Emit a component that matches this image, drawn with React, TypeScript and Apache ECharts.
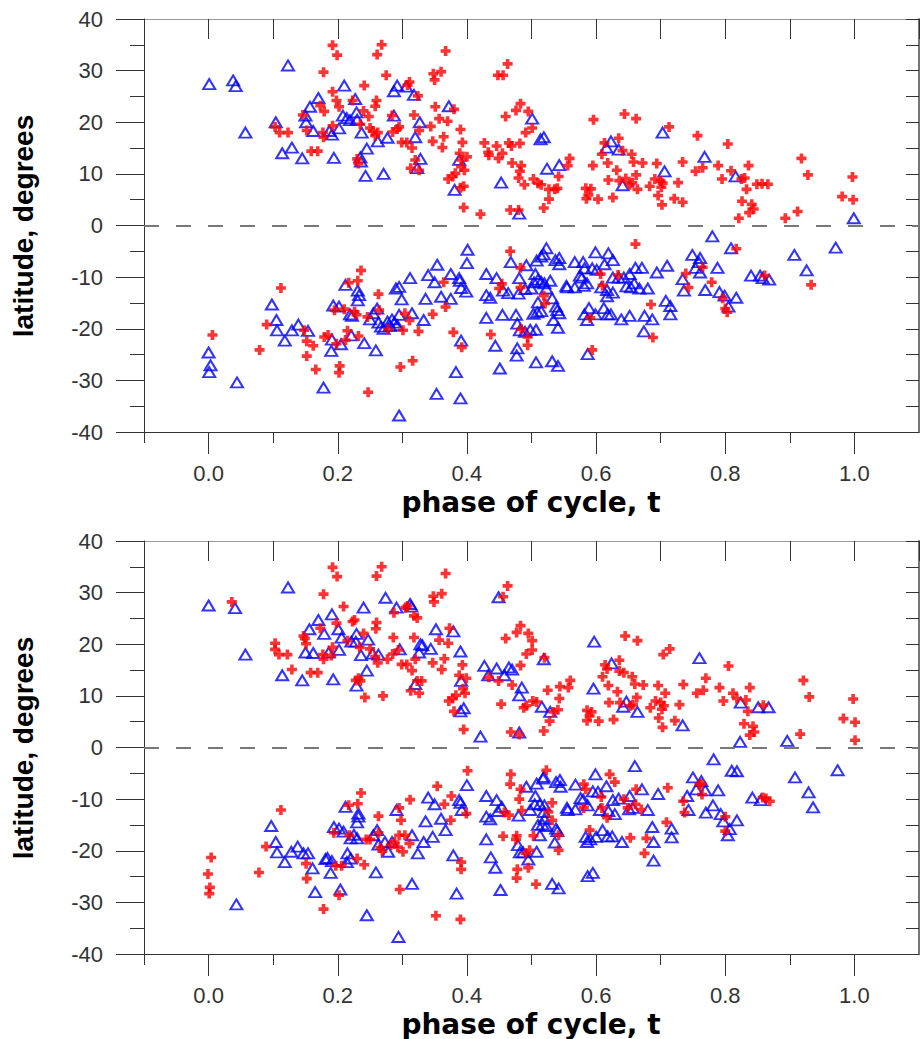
import React, { useEffect, useRef } from "react";
import * as echarts from "echarts";

// ---------- data: [phase t, latitude] ----------
const topRedNorth: number[][] = [
  [0.192,34.9],[0.199,33.0],[0.178,29.7],[0.268,35.0],[0.261,33.1],[0.275,29.1],[0.367,33.8],[0.348,29.4],[0.360,29.8],[0.350,28.2],
  [0.463,31.3],[0.448,29.1],[0.456,29.1],[0.241,27.1],[0.192,25.9],[0.198,24.2],[0.202,23.0],[0.173,23.2],[0.179,22.1],[0.146,21.4],
  [0.103,19.1],[0.110,18.0],[0.123,18.0],[0.152,18.4],[0.177,18.0],[0.178,17.1],[0.192,19.3],[0.159,14.4],[0.169,14.4],[0.223,24.2],
  [0.260,24.2],[0.258,23.1],[0.240,22.2],[0.248,21.1],[0.235,19.6],[0.250,18.9],[0.254,18.3],[0.262,18.0],[0.258,17.4],[0.230,12.9],
  [0.232,12.0],[0.311,27.8],[0.308,27.2],[0.324,25.1],[0.284,21.3],[0.318,21.4],[0.295,19.1],[0.292,18.7],[0.285,18.1],[0.299,16.1],
  [0.307,16.1],[0.315,15.0],[0.326,18.4],[0.344,19.2],[0.351,23.0],[0.357,20.7],[0.370,20.2],[0.380,22.5],[0.390,18.6],[0.347,16.3],
  [0.364,17.2],[0.362,15.1],[0.393,16.1],[0.389,14.0],[0.400,13.3],[0.392,12.7],[0.391,11.4],[0.396,10.7],[0.320,12.7],[0.313,11.1],
  [0.326,10.7],[0.382,10.1],[0.378,9.5],[0.371,9.0],[0.390,7.3],[0.395,7.6],[0.395,3.5],[0.421,2.2],[0.427,16.0],[0.446,15.4],
  [0.433,14.2],[0.434,13.6],[0.449,13.0],[0.455,14.0],[0.465,16.0],[0.469,15.4],[0.482,15.9],[0.460,21.1],[0.476,22.3],[0.483,23.6],
  [0.495,22.1],[0.501,18.9],[0.491,18.0],[0.470,12.1],[0.484,11.6],[0.482,10.5],[0.480,9.2],[0.503,9.0],[0.489,7.9],[0.510,8.2],
  [0.467,3.0],[0.480,3.0],
  [0.596,20.5],[0.644,21.6],[0.662,20.7],[0.713,19.1],[0.757,17.4],[0.804,15.8],[0.613,16.0],[0.635,16.9],[0.641,14.5],[0.609,13.8],
  [0.655,13.8],[0.658,12.3],[0.672,12.1],[0.618,12.1],[0.595,11.6],[0.632,10.7],[0.662,9.8],[0.694,12.0],[0.734,12.3],[0.559,13.0],
  [0.556,11.6],[0.542,9.5],[0.515,7.9],[0.527,7.0],[0.536,7.0],[0.540,7.2],[0.527,5.1],[0.519,3.4],[0.584,7.2],[0.592,7.1],
  [0.588,5.9],[0.585,5.2],[0.603,5.1],[0.626,5.4],[0.619,8.8],[0.636,8.7],[0.646,9.1],[0.652,7.9],[0.656,8.3],[0.664,7.0],
  [0.683,7.6],[0.691,9.0],[0.700,8.6],[0.703,8.2],[0.701,7.4],[0.696,5.8],[0.702,4.0],[0.721,5.2],[0.734,4.5],[0.727,8.3],
  [0.754,10.5],[0.765,11.2],[0.789,11.6],[0.795,9.0],[0.809,10.6],[0.825,9.0],[0.830,9.2],[0.836,11.6],[0.833,7.0],[0.826,4.7],
  [0.841,4.1],[0.844,3.2],[0.837,2.5],[0.821,1.4],[0.849,8.0],[0.857,8.1],[0.866,8.0],[0.893,1.4],[0.912,2.7],[0.918,13.0],
  [0.928,9.8],[0.981,5.6],[0.997,9.4],[0.998,5.0]
];
const topRedSouth: number[][] = [
  [0.006,-21.2],[0.079,-24.1],[0.090,-19.2],[0.112,-12.1],[0.148,-20.3],[0.152,-22.4],[0.162,-23.3],[0.152,-25.3],[0.166,-27.9],[0.179,-21.6],
  [0.185,-21.2],[0.198,-22.9],[0.195,-16.4],[0.210,-16.2],[0.203,-27.2],[0.202,-28.5],[0.217,-11.1],[0.231,-10.7],[0.236,-8.7],[0.226,-16.7],
  [0.229,-17.3],[0.215,-20.4],[0.212,-22.2],[0.232,-21.4],[0.246,-17.7],[0.247,-32.3],[0.263,-13.3],[0.264,-16.4],[0.278,-20.1],[0.297,-27.4],
  [0.301,-20.3],[0.304,-17.0],[0.311,-18.4],[0.316,-26.2],[0.325,-20.5],[0.347,-17.2],[0.364,-11.0],[0.367,-15.8],[0.379,-20.7],[0.392,-23.6],
  [0.437,-21.1],[0.467,-5.0],[0.483,-8.2],[0.454,-11.3],[0.450,-12.2],[0.483,-12.0],[0.484,-20.1],[0.494,-21.6],[0.494,-23.2],
  [0.661,-3.6],[0.817,-4.5],[0.607,-9.4],[0.610,-11.6],[0.634,-9.6],[0.519,-13.6],[0.521,-15.1],[0.591,-17.9],[0.594,-24.1],[0.685,-15.3],
  [0.688,-21.7],[0.739,-9.3],[0.743,-12.0],[0.765,-8.1],[0.779,-11.0],[0.796,-14.1],[0.800,-16.1],[0.803,-16.8],[0.861,-9.7],[0.933,-11.5]
];
const topBlueNorth: number[][] = [
  [0.001,27.4],[0.038,28.1],[0.042,27.0],[0.057,18.0],[0.123,31.0],[0.104,20.0],[0.114,14.0],[0.129,15.1],[0.145,13.0],[0.157,23.0],
  [0.150,21.3],[0.151,20.0],[0.162,18.3],[0.170,24.7],[0.187,18.3],[0.191,17.6],[0.202,18.8],[0.194,13.1],[0.210,27.1],[0.208,21.3],
  [0.214,20.8],[0.219,20.4],[0.229,21.9],[0.230,20.5],[0.227,24.5],[0.237,18.0],[0.245,14.9],[0.235,13.2],[0.236,12.4],[0.243,9.6],
  [0.271,10.0],[0.262,16.3],[0.277,17.0],[0.287,26.0],[0.292,27.1],[0.306,26.9],[0.318,25.3],[0.287,21.3],[0.327,20.0],[0.320,17.1],
  [0.328,12.9],[0.323,11.1],[0.372,23.1],[0.388,12.7],[0.381,6.9],[0.453,8.3],[0.481,2.3],[0.501,20.7],
  [0.519,17.1],[0.514,16.7],[0.524,11.0],[0.543,11.7],[0.623,16.3],[0.616,15.1],[0.635,14.7],[0.641,7.8],[0.703,18.0],[0.706,10.5],
  [0.768,13.3],[0.816,9.5],[0.999,1.4]
];
const topBlueSouth: number[][] = [
  [0.000,-24.6],[0.003,-27.1],[0.001,-28.4],[0.044,-30.4],[0.098,-15.3],[0.105,-18.3],[0.106,-20.3],[0.118,-22.3],[0.129,-20.3],[0.139,-19.2],
  [0.154,-20.4],[0.178,-31.4],[0.190,-24.3],[0.191,-22.1],[0.205,-23.0],[0.193,-15.5],[0.202,-15.7],[0.212,-11.5],[0.221,-21.3],[0.219,-17.2],
  [0.222,-17.5],[0.231,-12.6],[0.233,-13.5],[0.231,-14.5],[0.241,-22.8],[0.250,-18.2],[0.255,-17.0],[0.261,-16.1],[0.259,-24.2],[0.263,-18.8],
  [0.267,-19.6],[0.271,-20.0],[0.277,-18.6],[0.281,-19.5],[0.284,-18.2],[0.288,-18.8],[0.292,-19.3],[0.295,-17.3],[0.290,-12.2],[0.295,-11.9],
  [0.299,-14.3],[0.295,-36.8],[0.312,-10.2],[0.315,-17.0],[0.333,-18.3],[0.336,-14.2],[0.340,-9.6],[0.350,-11.0],[0.354,-7.6],[0.360,-13.8],
  [0.353,-32.6],[0.375,-9.4],[0.375,-14.2],[0.388,-10.2],[0.389,-10.7],[0.391,-12.1],[0.399,-12.8],[0.391,-22.3],[0.383,-28.4],[0.390,-33.5],
  [0.401,-4.7],[0.400,-7.3],[0.430,-9.4],[0.446,-10.2],[0.430,-13.5],[0.436,-14.0],[0.430,-17.9],[0.444,-23.3],[0.451,-27.7],[0.455,-17.3],
  [0.468,-7.1],[0.481,-10.2],[0.492,-7.7],[0.506,-9.4],[0.508,-6.8],[0.504,-11.0],[0.500,-12.2],[0.490,-12.3],[0.456,-12.6],[0.464,-13.1],
  [0.480,-13.2],[0.476,-17.3],[0.478,-19.0],[0.482,-20.3],[0.490,-20.6],[0.498,-20.2],[0.507,-20.2],[0.478,-23.8],[0.477,-25.2],[0.507,-26.5],
  [0.510,-14.9],[0.503,-17.1],[0.509,-16.8],
  [0.523,-4.4],[0.519,-5.6],[0.515,-6.0],[0.537,-6.7],[0.543,-6.3],[0.543,-7.5],[0.510,-10.5],[0.515,-10.9],[0.520,-11.2],[0.529,-10.7],
  [0.523,-12.2],[0.532,-14.1],[0.538,-15.7],[0.540,-16.4],[0.515,-16.6],[0.543,-17.0],[0.534,-18.3],[0.541,-19.8],[0.532,-26.3],[0.541,-27.2],
  [0.567,-7.1],[0.580,-7.1],[0.582,-8.3],[0.594,-8.3],[0.599,-5.2],[0.619,-5.4],[0.626,-6.7],[0.613,-7.5],[0.601,-8.6],[0.575,-9.7],
  [0.578,-10.1],[0.586,-11.2],[0.581,-11.7],[0.554,-11.7],[0.555,-12.0],[0.567,-12.0],[0.608,-12.0],[0.617,-12.5],[0.626,-13.0],[0.617,-13.7],
  [0.626,-10.1],[0.635,-10.1],[0.643,-10.1],[0.652,-9.4],[0.661,-8.2],[0.671,-8.2],[0.647,-11.8],[0.654,-12.0],[0.659,-11.2],[0.667,-12.2],
  [0.680,-12.2],[0.694,-9.1],[0.710,-7.8],[0.589,-16.0],[0.582,-17.2],[0.586,-18.3],[0.599,-17.2],[0.612,-16.0],[0.618,-17.2],[0.623,-17.2],
  [0.639,-18.2],[0.652,-17.5],[0.675,-17.5],[0.687,-18.2],[0.674,-20.5],[0.708,-14.6],[0.715,-15.6],[0.715,-17.2],[0.587,-24.9],[0.780,-2.1],
  [0.809,-4.4],[0.749,-5.7],[0.761,-6.3],[0.759,-7.1],[0.754,-8.2],[0.788,-8.2],[0.761,-9.1],[0.734,-10.4],[0.736,-12.6],[0.769,-12.5],
  [0.791,-12.9],[0.799,-13.6],[0.817,-14.0],[0.805,-15.7],[0.840,-9.7],[0.854,-9.7],[0.858,-10.2],[0.868,-10.5],[0.907,-5.7],[0.926,-8.7],
  [0.971,-4.3]
];

const bottomRedNorth: number[][] = [
  [0.036,28.2],[0.192,34.9],[0.199,33.1],[0.178,29.7],[0.268,35.0],[0.260,33.2],[0.209,27.3],[0.223,24.4],[0.226,24.7],[0.198,24.1],
  [0.173,23.1],[0.147,21.6],[0.149,21.1],[0.151,20.1],[0.103,20.2],[0.103,19.0],[0.109,18.0],[0.122,18.0],[0.129,15.1],[0.158,14.5],
  [0.169,14.5],[0.177,18.0],[0.178,17.1],[0.190,17.8],[0.192,19.4],[0.215,20.7],[0.240,22.1],[0.250,19.1],[0.258,17.6],[0.262,16.4],
  [0.260,24.2],[0.259,23.0],[0.234,19.4],[0.228,13.0],[0.232,13.4],[0.235,12.9],[0.242,9.7],[0.270,10.0],[0.277,17.1],[0.285,18.1],
  [0.287,26.1],[0.286,21.3],[0.305,27.1],[0.308,27.4],[0.318,25.5],[0.323,25.1],[0.318,21.3],[0.294,18.9],[0.299,16.1],[0.307,16.1],
  [0.315,14.9],[0.320,17.1],[0.323,12.9],[0.330,12.9],[0.313,11.0],[0.326,10.5],[0.348,29.3],[0.361,29.8],[0.349,28.2],[0.367,33.7],
  [0.347,16.4],[0.357,20.8],[0.371,20.2],[0.373,23.1],[0.365,17.2],[0.361,15.1],[0.393,16.0],[0.388,14.0],[0.399,13.4],[0.394,11.4],
  [0.397,10.5],[0.383,10.1],[0.378,9.5],[0.372,9.0],[0.380,7.0],[0.395,3.5],[0.434,13.6],[0.449,12.9],[0.456,29.2],[0.463,31.3],
  [0.460,21.1],[0.477,22.3],[0.483,23.6],[0.495,22.1],[0.501,20.7],[0.501,18.9],[0.492,18.1],[0.483,15.9],[0.470,12.1],[0.453,8.4],
  [0.488,7.7],[0.492,8.1],[0.502,9.0],[0.508,8.8],[0.468,3.0],[0.481,2.5],
  [0.520,17.4],[0.645,21.6],[0.664,20.7],[0.714,19.1],[0.704,18.0],[0.805,15.8],[0.614,16.0],[0.617,15.2],[0.636,16.9],[0.636,14.8],
  [0.643,14.5],[0.610,13.7],[0.656,13.7],[0.660,12.3],[0.673,12.1],[0.619,12.0],[0.633,10.8],[0.560,13.0],[0.557,11.6],[0.544,11.8],
  [0.525,11.1],[0.543,9.5],[0.534,6.9],[0.541,7.3],[0.528,5.1],[0.519,3.2],[0.586,7.2],[0.593,6.9],[0.590,6.1],[0.586,5.2],
  [0.604,5.1],[0.627,5.4],[0.620,8.7],[0.637,8.7],[0.653,8.1],[0.657,8.3],[0.663,9.7],[0.684,7.7],[0.692,9.0],[0.700,8.7],
  [0.705,8.1],[0.702,7.4],[0.697,5.7],[0.703,3.9],[0.722,5.2],[0.729,8.3],[0.696,12.0],[0.707,10.5],[0.735,12.2],[0.756,10.5],
  [0.766,11.1],[0.770,13.4],[0.791,11.6],[0.797,9.0],[0.812,10.5],[0.818,9.5],[0.832,9.2],[0.838,11.6],[0.835,7.0],[0.829,4.6],
  [0.843,4.1],[0.845,3.0],[0.838,2.4],[0.859,8.2],[0.916,2.6],[0.921,13.0],[0.930,9.8],[0.983,5.6],[0.998,9.4],[1.001,4.9],
  [1.001,1.4]
];
const bottomRedSouth: number[][] = [
  [0.004,-21.3],[-0.001,-24.5],[0.002,-27.1],[0.001,-28.3],[0.078,-24.2],[0.089,-19.2],[0.112,-12.1],[0.151,-22.5],[0.152,-25.4],[0.178,-31.3],
  [0.197,-22.9],[0.206,-22.9],[0.202,-28.6],[0.194,-16.5],[0.217,-11.2],[0.231,-10.9],[0.236,-8.8],[0.218,-17.0],[0.230,-21.5],[0.241,-22.7],
  [0.244,-17.8],[0.250,-17.8],[0.263,-13.3],[0.263,-16.5],[0.266,-19.4],[0.269,-20.1],[0.282,-18.9],[0.288,-18.3],[0.293,-19.3],[0.295,-11.7],
  [0.298,-14.1],[0.295,-17.0],[0.301,-20.2],[0.304,-17.0],[0.311,-18.6],[0.312,-10.1],[0.296,-27.5],[0.352,-32.6],[0.354,-7.5],[0.365,-11.0],
  [0.376,-9.4],[0.375,-14.1],[0.391,-22.2],[0.391,-23.6],[0.390,-33.3],[0.401,-4.5],[0.399,-12.8],[0.468,-5.2],[0.467,-7.1],[0.483,-8.1],
  [0.481,-10.0],[0.485,-12.2],[0.458,-12.6],[0.465,-13.1],[0.456,-17.2],[0.477,-17.1],[0.476,-17.8],[0.497,-19.9],[0.491,-20.5],[0.478,-23.6],
  [0.477,-25.3],[0.495,-23.3],[0.507,-26.5],[0.503,-17.1],
  [0.523,-4.4],[0.621,-5.2],[0.629,-6.7],[0.581,-7.1],[0.584,-8.1],[0.662,-8.1],[0.711,-7.8],[0.608,-9.6],[0.643,-10.0],[0.661,-11.0],
  [0.649,-11.7],[0.670,-12.0],[0.581,-11.7],[0.609,-11.7],[0.617,-13.6],[0.532,-10.7],[0.526,-12.5],[0.532,-14.1],[0.542,-17.0],[0.542,-19.9],
  [0.590,-16.0],[0.653,-17.5],[0.678,-17.6],[0.675,-20.5],[0.709,-14.5],[0.735,-10.4],[0.737,-12.6],[0.760,-7.2],[0.763,-7.0],[0.764,-9.1],
  [0.800,-13.4],[0.800,-16.2],[0.858,-9.7],[0.863,-9.9],[0.869,-10.4]
];
const bottomBlueNorth: number[][] = [
  [0.000,27.5],[0.041,27.0],[0.057,18.0],[0.123,31.0],[0.114,14.0],[0.145,13.0],[0.150,18.4],[0.162,18.3],[0.156,22.9],[0.170,24.7],
  [0.179,22.0],[0.191,25.8],[0.201,22.9],[0.206,21.3],[0.186,18.4],[0.202,18.9],[0.193,13.2],[0.221,20.5],[0.229,22.0],[0.228,20.5],
  [0.240,27.1],[0.247,20.9],[0.236,17.9],[0.254,18.2],[0.263,18.0],[0.245,14.9],[0.229,12.0],[0.274,29.0],[0.291,27.1],[0.312,27.8],
  [0.314,27.3],[0.296,19.0],[0.328,20.0],[0.331,19.8],[0.326,18.4],[0.344,19.1],[0.320,12.3],[0.352,22.9],[0.379,22.5],[0.390,18.6],
  [0.391,12.9],[0.390,7.0],[0.395,7.6],[0.421,2.1],[0.449,29.1],[0.427,15.8],[0.446,15.3],[0.433,14.0],[0.458,14.0],[0.465,15.5],
  [0.470,15.1],[0.485,11.6],[0.481,10.1],[0.481,2.9],
  [0.597,20.5],[0.519,17.1],[0.624,16.3],[0.760,17.3],[0.596,11.4],[0.516,7.9],[0.529,6.9],[0.642,7.9],[0.647,8.9],[0.664,6.9],
  [0.734,4.3],[0.824,8.7],[0.851,7.8],[0.867,7.8],[0.823,1.1],[0.896,1.3]
];
const bottomBlueSouth: number[][] = [
  [0.043,-30.4],[0.097,-15.2],[0.104,-18.3],[0.106,-20.3],[0.118,-22.2],[0.128,-20.2],[0.138,-19.2],[0.147,-20.5],[0.154,-20.5],[0.161,-23.4],
  [0.165,-28.0],[0.181,-21.6],[0.184,-21.4],[0.191,-22.0],[0.189,-24.3],[0.204,-27.5],[0.194,-15.4],[0.202,-15.7],[0.209,-16.3],[0.212,-11.5],
  [0.215,-20.5],[0.214,-22.2],[0.220,-21.5],[0.232,-12.8],[0.232,-13.4],[0.230,-14.5],[0.225,-16.9],[0.220,-17.6],[0.230,-17.6],[0.245,-32.5],
  [0.255,-17.0],[0.261,-16.0],[0.259,-24.2],[0.263,-18.8],[0.273,-18.3],[0.278,-20.2],[0.284,-18.3],[0.291,-12.1],[0.294,-36.7],[0.315,-26.4],
  [0.315,-17.0],[0.324,-20.5],[0.333,-18.3],[0.336,-14.3],[0.340,-9.7],[0.350,-11.0],[0.347,-17.3],[0.360,-13.8],[0.367,-16.0],[0.379,-20.9],
  [0.384,-28.3],[0.388,-10.2],[0.390,-10.7],[0.392,-12.1],[0.400,-7.3],[0.430,-9.4],[0.446,-10.2],[0.454,-11.5],[0.430,-13.4],[0.436,-13.9],
  [0.430,-17.8],[0.437,-21.3],[0.444,-23.3],[0.452,-27.6],[0.448,-12.3],[0.480,-13.2],[0.492,-7.6],[0.506,-9.4],[0.508,-7.0],[0.505,-11.0],
  [0.498,-12.1],[0.479,-18.9],[0.482,-20.3],[0.487,-20.3],[0.495,-21.7],[0.508,-20.2],[0.510,-15.0],
  [0.782,-2.3],[0.660,-3.6],[0.810,-4.5],[0.818,-4.6],[0.974,-4.4],[0.908,-5.8],[0.599,-5.2],[0.519,-5.7],[0.518,-6.0],[0.538,-6.7],
  [0.544,-6.3],[0.545,-7.6],[0.568,-7.2],[0.595,-8.5],[0.603,-8.6],[0.616,-7.5],[0.576,-9.8],[0.580,-10.1],[0.587,-11.2],[0.555,-11.7],
  [0.556,-12.1],[0.568,-12.0],[0.513,-11.0],[0.520,-11.2],[0.519,-12.5],[0.520,-13.8],[0.517,-14.9],[0.523,-15.2],[0.513,-17.0],[0.538,-15.7],
  [0.540,-16.2],[0.536,-18.4],[0.532,-26.4],[0.542,-27.3],[0.587,-24.9],[0.595,-24.3],[0.610,-16.0],[0.584,-17.3],[0.591,-17.8],[0.586,-18.3],
  [0.600,-17.3],[0.618,-17.2],[0.625,-17.2],[0.619,-12.3],[0.629,-12.9],[0.606,-12.1],[0.626,-10.2],[0.635,-9.9],[0.652,-9.4],[0.651,-12.0],
  [0.657,-11.7],[0.671,-8.1],[0.680,-12.1],[0.696,-9.0],[0.640,-18.3],[0.687,-15.4],[0.689,-18.3],[0.689,-21.9],[0.717,-15.7],[0.717,-17.4],
  [0.750,-5.8],[0.763,-6.5],[0.755,-8.1],[0.769,-8.3],[0.789,-8.3],[0.741,-9.4],[0.743,-12.1],[0.770,-12.6],[0.781,-11.2],[0.793,-12.9],
  [0.797,-14.3],[0.818,-14.1],[0.807,-15.8],[0.804,-17.0],[0.842,-9.7],[0.855,-10.2],[0.929,-8.7],[0.936,-11.6]
];

const xMajorTicks = [0, 0.2, 0.4, 0.6, 0.8, 1.0];
const xMinorTicks = [-0.1, 0.1, 0.3, 0.5, 0.7, 0.9];
const xTitle = "phase of cycle, t";
const yTitle = "latitude, degrees";

const PLUS = "path://M3.2,0H6.8V3.2H10V6.8H6.8V10H3.2V6.8H0V3.2H3.2Z";
const tickColor = "#333";
const labelStyle = { fontSize: 22, color: "#333", fontFamily: "Liberation Sans, Arial, sans-serif" };

function panelAxes(mainGrid: number, overlayGrid: number) {
  const xAxes = [
    {
      type: "value", gridIndex: mainGrid, position: "bottom", min: -0.1, max: 1.1,
      axisLine: { show: true, onZero: false, lineStyle: { color: tickColor, width: 1 } },
      axisTick: { show: true, customValues: xMajorTicks, length: 22, lineStyle: { color: tickColor } },
      axisLabel: { ...labelStyle, customValues: xMajorTicks, margin: 30, formatter: (v: number) => v.toFixed(1) },
      splitLine: { show: false },
    },
    {
      type: "value", gridIndex: mainGrid, position: "top", min: -0.1, max: 1.1, interval: 0.1,
      axisLine: { show: true, onZero: false, lineStyle: { color: "#999", width: 1 } },
      axisTick: { show: true, inside: true, length: 20, lineStyle: { color: tickColor } },
      axisLabel: { show: false },
      splitLine: { show: false },
    },
    {
      type: "value", gridIndex: overlayGrid, position: "bottom", min: -0.1, max: 1.1,
      axisLine: { show: false, onZero: false },
      axisTick: { show: true, customValues: xMinorTicks, length: 11, lineStyle: { color: tickColor } },
      axisLabel: { show: false },
      splitLine: { show: false },
    },
  ];
  const yAxes = [
    {
      type: "value", gridIndex: mainGrid, position: "left", min: -40, max: 40, interval: 10,
      axisLine: { show: true, onZero: false, lineStyle: { color: tickColor, width: 1 } },
      axisTick: { show: true, length: 28, lineStyle: { color: tickColor } },
      minorTick: { show: true, splitNumber: 2, length: 14, lineStyle: { color: tickColor } },
      axisLabel: { ...labelStyle, margin: 41 },
      splitLine: { show: false },
    },
    {
      type: "value", gridIndex: mainGrid, position: "right", min: -40, max: 40, interval: 5,
      axisLine: { show: true, onZero: false, lineStyle: { color: "#777", width: 2 } },
      axisTick: { show: true, inside: true, length: 13, lineStyle: { color: tickColor } },
      axisLabel: { show: false },
      splitLine: { show: false },
    },
    {
      type: "value", gridIndex: overlayGrid, min: -40, max: 40, show: false,
      axisLine: { onZero: false },
    },
  ];
  return { xAxes, yAxes };
}

function panelSeries(xIdx: number, yIdx: number, blue: number[][], red: number[][]) {
  return [
    {
      type: "scatter", xAxisIndex: xIdx, yAxisIndex: yIdx, data: blue,
      symbol: "triangle", symbolSize: [12, 10],
      itemStyle: { color: "rgba(255,255,255,0)", borderColor: "#0000ff", borderWidth: 2 },
      markLine: {
        silent: true, symbol: ["none", "none"], label: { show: false },
        lineStyle: { color: "#777", width: 2, type: [15, 17] },
        data: [{ yAxis: 0 }],
      },
      z: 2,
    },
    {
      type: "scatter", xAxisIndex: xIdx, yAxisIndex: yIdx, data: red,
      symbol: PLUS, symbolSize: 10,
      itemStyle: { color: "#ff0000" },
      z: 3,
    },
  ];
}

export default function App() {
  const ref = useRef<HTMLDivElement>(null);
  useEffect(() => {
    if (!ref.current) return;
    const chart = echarts.init(ref.current, undefined, { renderer: "svg" });
    const p1 = panelAxes(0, 1);
    const p2 = panelAxes(2, 3);
    const gridRect1 = { left: 144, top: 19, width: 775, height: 413 };
    const gridRect2 = { left: 144, top: 541, width: 775, height: 413 };
    const titleFontX = 'bold 28px "DejaVu Sans", Verdana, sans-serif';
    const titleFontY = 'bold 28px "Liberation Sans", Arial, sans-serif';
    chart.setOption({
      animation: false,
      backgroundColor: "#ffffff",
      grid: [gridRect1, gridRect1, gridRect2, gridRect2].map((g) => ({ ...g, containLabel: false })),
      xAxis: [...p1.xAxes, ...p2.xAxes],
      yAxis: [...p1.yAxes, ...p2.yAxes],
      series: [
        ...panelSeries(0, 0, [...topBlueNorth, ...topBlueSouth], [...topRedNorth, ...topRedSouth]),
        ...panelSeries(3, 3, [...bottomBlueNorth, ...bottomBlueSouth], [...bottomRedNorth, ...bottomRedSouth]),
      ],
      graphic: [
        { type: "text", x: 531, y: 502, style: { text: xTitle, font: titleFontX, fill: "#000", align: "center", verticalAlign: "middle" } },
        { type: "text", x: 531, y: 1024, style: { text: xTitle, font: titleFontX, fill: "#000", align: "center", verticalAlign: "middle" } },
        { type: "text", x: 23, y: 226, rotation: Math.PI / 2, style: { text: yTitle, font: titleFontY, fill: "#000", align: "center", verticalAlign: "middle" } },
        { type: "text", x: 23, y: 748, rotation: Math.PI / 2, style: { text: yTitle, font: titleFontY, fill: "#000", align: "center", verticalAlign: "middle" } },
      ],
    });
    return () => chart.dispose();
  }, []);
  return (
    <div
      ref={ref}
      style={{ position: "absolute", left: 0, top: 0, width: 923, height: 1039, background: "#fff" }}
    />
  );
}
